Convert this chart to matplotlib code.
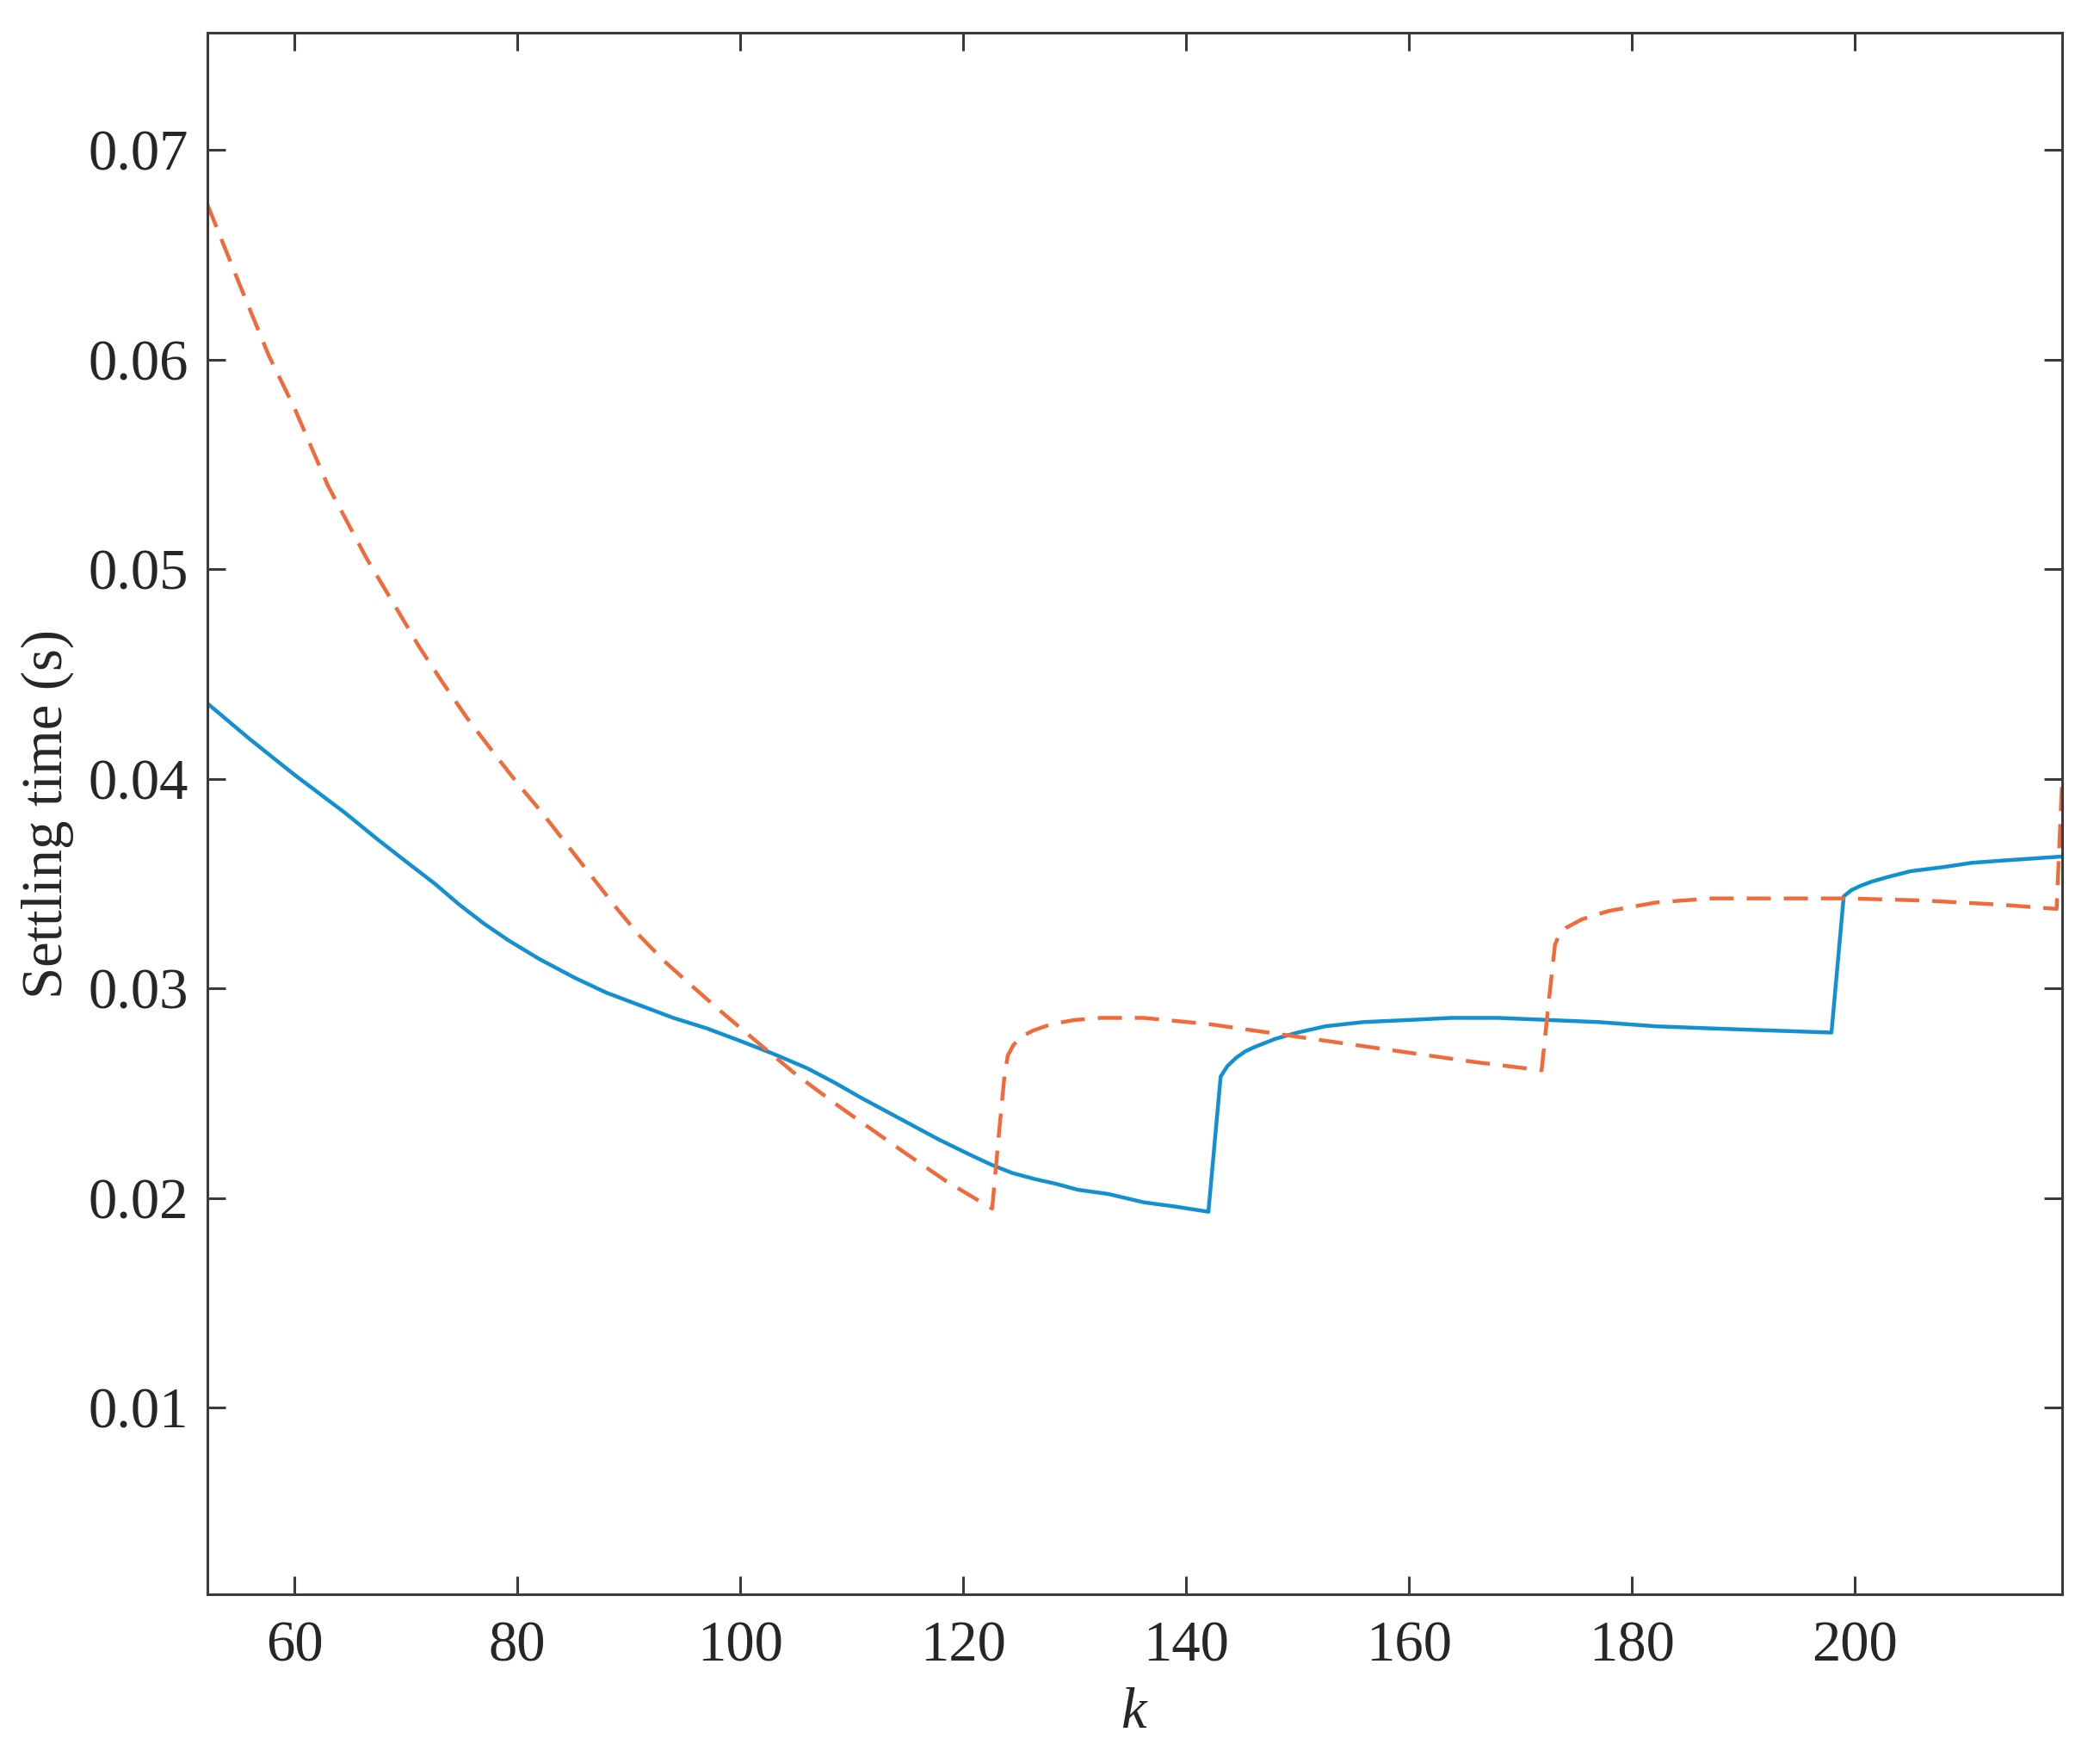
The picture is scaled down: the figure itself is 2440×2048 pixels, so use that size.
import matplotlib
matplotlib.use("Agg")
import matplotlib.pyplot as plt

# values
k_solid = [52.2, 56, 60, 64.5, 67.5, 70.4, 72.6, 74.8, 77, 79.2, 82, 85.2, 88, 91,
           94, 97, 100, 102.9, 106, 108.5, 110.8, 114.3, 117.8, 120.5, 122.5,
           124.4, 126.5, 128.2, 130.3, 133, 136.2, 139, 142,
           143.1, 143.7, 144.5, 145.3, 146.1, 148, 150, 152.5, 155.9, 160, 163.8,
           168, 172.5, 177, 182.1, 187, 192.4, 197.9,
           199, 199.7, 200.5, 201.5, 202.8, 205, 208, 210.5, 213.1, 218.6]
t_solid = [0.0436, 0.0419, 0.0402, 0.0384, 0.0371, 0.0359, 0.0350, 0.0340, 0.0331,
           0.0323, 0.0314, 0.0305, 0.0298, 0.0292, 0.0286, 0.0281, 0.0275, 0.0269,
           0.0262, 0.0255, 0.0248, 0.0238, 0.0228, 0.0221, 0.0216, 0.0212, 0.0209,
           0.0207, 0.0204, 0.0202, 0.0198, 0.0196, 0.01935,
           0.0258, 0.0263, 0.0267, 0.0270, 0.0272, 0.0276, 0.0279, 0.0282, 0.0284,
           0.0285, 0.0286, 0.0286, 0.0285, 0.0284, 0.0282, 0.0281, 0.0280, 0.0279,
           0.0344, 0.0347, 0.0349, 0.0351, 0.0353, 0.0356, 0.0358, 0.0360, 0.0361,
           0.0363]

k_dashed = [52.2, 55, 57.7, 60, 63, 66.5, 69.2, 71.2, 73.3, 75.5, 77.8, 80, 82.2,
            84.4, 86.6, 88.8, 91, 93.2, 95.5, 98.5, 101.4, 105, 108.8, 112, 114.4,
            118.5, 122.6,
            123.3, 123.7, 124.0, 124.5, 125.2, 126.3, 127.9, 130, 132.3, 136.2,
            142.1, 150, 157.9, 165.8, 171.9,
            172.5, 173.1, 173.5, 174.1, 175.5, 177.9, 180, 182.1, 184.5, 187.2,
            194.1, 199.3, 206.2, 213.1, 218.1, 218.6]
t_dashed = [0.0674, 0.0637, 0.0602, 0.0577, 0.0540, 0.0505, 0.0481, 0.0463, 0.0446,
            0.0429, 0.0413, 0.0398, 0.0384, 0.0369, 0.0354, 0.0339, 0.0325, 0.0313,
            0.0302, 0.0288, 0.0275, 0.0259, 0.0244, 0.0232, 0.0223, 0.0208, 0.0195,
            0.0236, 0.0258, 0.0268, 0.0273, 0.0277, 0.0280, 0.0283, 0.0285, 0.0286,
            0.0286, 0.0283, 0.0277, 0.0271, 0.0265, 0.0261,
            0.0292, 0.0321, 0.0326, 0.0329, 0.0333, 0.0337, 0.0339, 0.0341, 0.0342,
            0.0343, 0.0343, 0.0343, 0.0342, 0.0340, 0.0338, 0.0400]

x_ticks = [60, 80, 100, 120, 140, 160, 180, 200]
y_ticks = [0.01, 0.02, 0.03, 0.04, 0.05, 0.06, 0.07]
y_tick_labels = ["0.01", "0.02", "0.03", "0.04", "0.05", "0.06", "0.07"]

plt.rcParams['font.family'] = ['Liberation Serif', 'DejaVu Serif']
plt.rcParams['mathtext.fontset'] = 'custom'
plt.rcParams['mathtext.it'] = 'Liberation Serif:italic'

fig = plt.figure(figsize=(12.2, 10.24), dpi=200)
ax = fig.add_axes([0.0988, 0.0957, 0.982 - 0.0988, 0.9814 - 0.0957])

ax.plot(k_solid, t_solid, color='#1190d2', lw=1.6, solid_joinstyle='round')
ax.plot(k_dashed, t_dashed, color='#f26a3a', lw=1.6, ls=(0, (6.3, 3.4)))

ax.set_xlim(52.2, 218.6)
ax.set_ylim(0.0011, 0.0756)
ax.set_xticks(x_ticks)
ax.set_xticklabels([str(v) for v in x_ticks])
ax.set_yticks(y_ticks)
ax.set_yticklabels(y_tick_labels)

for s in ax.spines.values():
    s.set_color('#3a3a3a')
    s.set_linewidth(1.1)
ax.tick_params(direction='in', length=7.5, width=1.1, color='#3a3a3a',
               top=True, right=True, labelsize=24, labelcolor='#262626')
ax.tick_params(axis='x', pad=11)
ax.tick_params(axis='y', pad=8)

ax.set_ylabel('Settling time (s)', fontsize=24, color='#262626', labelpad=6)
ax.set_xlabel('$k$', fontsize=24, color='#262626', labelpad=6)

fig.savefig('out.png', dpi=200, facecolor='white')
